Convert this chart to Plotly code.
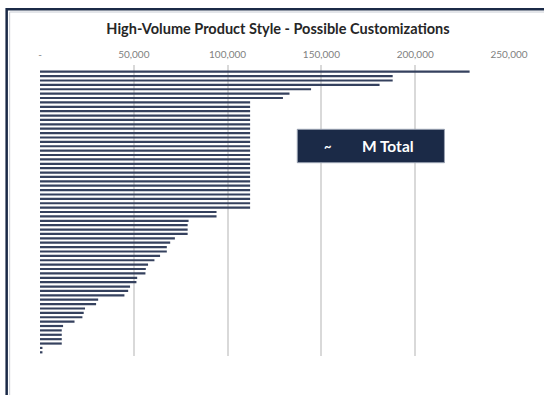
import plotly.graph_objects as go

# Data, top bar first
values = [229000, 188000, 188000, 181000, 144500, 133000, 129500] + [112000] * 25 + \
    [94100, 94100, 79200, 78700, 78700, 78700, 71900, 69400, 67600, 67600, 64000,
     61000, 57600, 56400, 56200, 51800, 51400, 48000, 47000, 45000, 31000, 29900,
     24000, 23300, 22600, 18400, 12300, 11600, 11600, 11600, 11600, 1300, 1300]
tick_vals = [0, 50000, 100000, 150000, 200000, 250000]
tick_text = ["-", "50,000", "100,000", "150,000", "200,000", "250,000"]
title_text = "High-Volume Product Style - Possible Customizations"
box_text_a = "~"
box_text_b = "M Total"

W, H = 544, 395
L, R, T, B = 40.3, 508.8, 65, 356
pw, ph = R - L, B - T

def px(x):
    return (x - L) / pw

def py(y):
    return (B - y) / ph

idx = list(range(len(values)))

fig = go.Figure()
fig.add_trace(go.Bar(
    x=values, y=idx, orientation="h",
    marker=dict(color="#35415e", line=dict(width=0)),
    width=0.5,
))

navy = "#1b2a47"
fig.update_layout(
    width=W, height=H,
    margin=dict(l=L, r=W - R, t=T, b=H - B, pad=0),
    paper_bgcolor="white", plot_bgcolor="white",
    showlegend=False,
    title=dict(text="<b>" + title_text + "</b>", x=278 / W, xanchor="center",
               y=1 - 29 / H, yanchor="middle",
               font=dict(family="Lato", size=14.5, color="#262626")),
    xaxis=dict(range=[0, 250000], side="top", tickvals=tick_vals, ticktext=tick_text,
               showgrid=True, gridcolor="#d9d9d9", gridwidth=1.5,
               zeroline=False, showline=False, ticks="", ticklabelstandoff=4,
               tickfont=dict(family="Lato", size=10, color="#7f7f7f")),
    yaxis=dict(range=[64.84, -1.53], showticklabels=False, showgrid=False,
               zeroline=False, showline=False, ticks=""),
    bargap=0.5,
    shapes=[
        dict(type="rect", xref="paper", yref="paper",
             x0=px(7), x1=px(W + 20), y0=py(H + 20), y1=py(9.3),
             line=dict(color=navy, width=2.5), fillcolor="rgba(0,0,0,0)", layer="above"),
        dict(type="rect", xref="paper", yref="paper",
             x0=px(10), x1=px(W + 20), y0=py(H + 20), y1=py(12),
             line=dict(color="#c8ccd4", width=1), fillcolor="rgba(0,0,0,0)", layer="above"),
        dict(type="rect", xref="paper", yref="paper",
             x0=px(297.3), x1=px(444.3), y0=py(162.7), y1=py(129.3),
             line=dict(color="#9aa3b3", width=1), fillcolor=navy, layer="above"),
    ],
    annotations=[
        dict(text="<b>" + box_text_a + "</b>", xref="paper", yref="paper",
             x=px(328), y=py(146), xanchor="center", yanchor="middle", showarrow=False,
             font=dict(family="Lato", size=13, color="white")),
        dict(text="<b>" + box_text_b + "</b>", xref="paper", yref="paper",
             x=px(388), y=py(146), xanchor="center", yanchor="middle", showarrow=False,
             font=dict(family="Lato", size=15.5, color="white")),
    ],
)

fig.write_html("out.html")
